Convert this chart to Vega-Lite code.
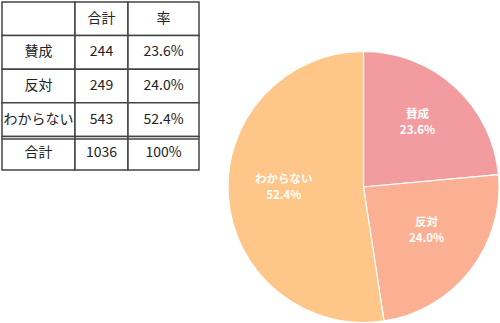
{
  "$schema": "https://vega.github.io/schema/vega-lite/v6.json",
  "padding": {"left": 1, "top": 1, "right": 0, "bottom": 0},
  "background": "white",
  "config": {"view": {"stroke": null}, "font": "Noto Sans CJK JP"},
  "datasets": {
    "cells": [
      {"row": "h", "col": "c1", "text": ""},
      {"row": "h", "col": "c2", "text": "合計"},
      {"row": "h", "col": "c3", "text": "率"},
      {"row": "a", "col": "c1", "text": "賛成"},
      {"row": "a", "col": "c2", "text": "244"},
      {"row": "a", "col": "c3", "text": "23.6%"},
      {"row": "b", "col": "c1", "text": "反対"},
      {"row": "b", "col": "c2", "text": "249"},
      {"row": "b", "col": "c3", "text": "24.0%"},
      {"row": "c", "col": "c1", "text": "わからない"},
      {"row": "c", "col": "c2", "text": "543"},
      {"row": "c", "col": "c3", "text": "52.4%"},
      {"row": "t", "col": "c1", "text": "合計"},
      {"row": "t", "col": "c2", "text": "1036"},
      {"row": "t", "col": "c3", "text": "100%"}
    ],
    "pie": [
      {"k": 1, "label": "賛成", "count": 244, "pct": "23.6%"},
      {"k": 2, "label": "反対", "count": 249, "pct": "24.0%"},
      {"k": 3, "label": "わからない", "count": 543, "pct": "52.4%"}
    ]
  },
  "spacing": 25,
  "hconcat": [
    {
      "spacing": 0,
      "bounds": "flush",
      "hconcat": [
        {
          "width": 73, "height": 168,
          "data": {"name": "cells"},
          "transform": [{"filter": "datum.col === 'c1'"}],
          "encoding": {"y": {"field": "row", "type": "nominal", "axis": null, "scale": {"domain": ["h","a","b","c","t"], "paddingInner": 0, "paddingOuter": 0}}},
          "layer": [
            {"mark": {"type": "rect", "fill": "white", "stroke": "#444", "strokeWidth": 1.5}},
            {"transform": [{"filter": "datum.row === 't'"}], "mark": {"type": "rule", "stroke": "#444", "strokeWidth": 1.5, "yOffset": 2.5}, "encoding": {"y": {"field": "row", "type": "nominal", "bandPosition": 0}}},
            {"mark": {"type": "text", "fontSize": 14, "color": "#222"}, "encoding": {"text": {"field": "text"}}}
          ]
        },
        {
          "width": 53, "height": 168,
          "data": {"name": "cells"},
          "transform": [{"filter": "datum.col === 'c2'"}],
          "encoding": {"y": {"field": "row", "type": "nominal", "axis": null, "scale": {"domain": ["h","a","b","c","t"], "paddingInner": 0, "paddingOuter": 0}}},
          "layer": [
            {"mark": {"type": "rect", "fill": "white", "stroke": "#444", "strokeWidth": 1.5}},
            {"transform": [{"filter": "datum.row === 't'"}], "mark": {"type": "rule", "stroke": "#444", "strokeWidth": 1.5, "yOffset": 2.5}, "encoding": {"y": {"field": "row", "type": "nominal", "bandPosition": 0}}},
            {"mark": {"type": "text", "fontSize": 14, "color": "#222"}, "encoding": {"text": {"field": "text"}}}
          ]
        },
        {
          "width": 71, "height": 168,
          "data": {"name": "cells"},
          "transform": [{"filter": "datum.col === 'c3'"}],
          "encoding": {"y": {"field": "row", "type": "nominal", "axis": null, "scale": {"domain": ["h","a","b","c","t"], "paddingInner": 0, "paddingOuter": 0}}},
          "layer": [
            {"mark": {"type": "rect", "fill": "white", "stroke": "#444", "strokeWidth": 1.5}},
            {"transform": [{"filter": "datum.row === 't'"}], "mark": {"type": "rule", "stroke": "#444", "strokeWidth": 1.5, "yOffset": 2.5}, "encoding": {"y": {"field": "row", "type": "nominal", "bandPosition": 0}}},
            {"mark": {"type": "text", "fontSize": 14, "color": "#222"}, "encoding": {"text": {"field": "text"}}}
          ]
        }
      ]
    },
    {
      "width": 271, "height": 322,
      "data": {"name": "pie"},
      "encoding": {
        "theta": {"field": "count", "type": "quantitative", "stack": true},
        "order": {"field": "k", "type": "quantitative"},
        "color": {"field": "label", "type": "nominal", "legend": null, "scale": {"domain": ["賛成", "反対", "わからない"], "range": ["#F29C9F", "#FCB093", "#FEC688"]}}
      },
      "layer": [
        {"mark": {"type": "arc", "radius": 135.5, "yOffset": 24, "stroke": "white", "strokeWidth": 1.2}},
        {"mark": {"type": "text", "radius": 80, "yOffset": 24, "dy": -13, "fill": "white", "fontWeight": "bold", "fontSize": 11.5}, "encoding": {"text": {"field": "label"}, "color": {"value": "white"}}},
        {"mark": {"type": "text", "radius": 80, "yOffset": 24, "dy": 3, "fill": "white", "fontWeight": "bold", "fontSize": 11.5}, "encoding": {"text": {"field": "pct"}, "color": {"value": "white"}}}
      ]
    }
  ]
}
